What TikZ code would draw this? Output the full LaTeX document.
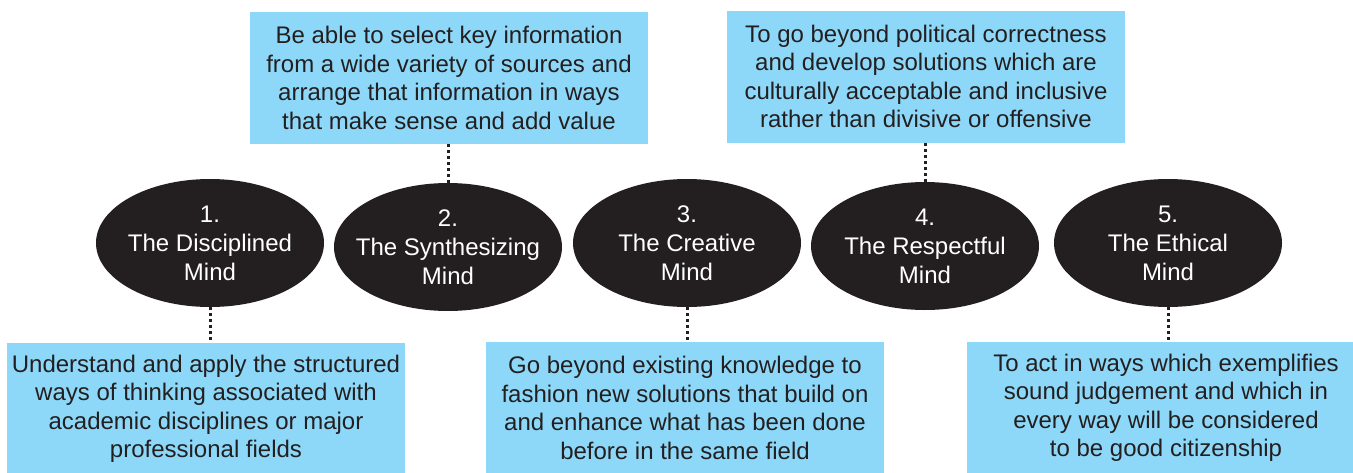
\documentclass[tikz,border=0pt]{standalone}
\usepackage{fontspec}
\setmainfont{Liberation Sans}
\usetikzlibrary{shapes.geometric}
\definecolor{mindblack}{HTML}{231F20}
\definecolor{mindblue}{HTML}{8DD8F8}

\begin{document}
\begin{tikzpicture}[
		x=1pt, y=-1pt,
		mind/.style={ellipse, fill=mindblack, minimum width=228pt, minimum height=128pt, inner sep=0pt},
		mindtext/.style={text=white, align=center, font=\fontsize{24}{29}\selectfont},
		infobox/.style={rectangle, fill=mindblue, text=mindblack, minimum width=398pt, minimum height=132pt, inner sep=0pt, align=center, font=\fontsize{24}{28.5}\selectfont},
		link/.style={mindblack, line width=3pt, dash pattern=on 3pt off 3pt}
	]
	\useasboundingbox (0,0) rectangle (1353,472);
	\clip (0,0) rectangle (1353,472);

	% the five minds
	\node[mind, label={[mindtext]center:{1.\\The Disciplined\\Mind}}] (e1) at (210,243) {};
	\node[mind, label={[mindtext]center:{2.\\The Synthesizing\\Mind}}] (e2) at (448,247) {};
	\node[mind, label={[mindtext]center:{3.\\The Creative\\Mind}}] (e3) at (687,243) {};
	\node[mind, label={[mindtext]center:{4.\\The Respectful\\Mind}}] (e4) at (925,246) {};
	\node[mind, label={[mindtext]center:{5.\\The Ethical\\Mind}}] (e5) at (1168,243) {};

	% descriptions
	\node[infobox] (b1) at (206,409) {Understand and apply the structured\\ways of thinking associated with\\academic disciplines or major\\professional fields};
	\node[infobox] (b2) at (449,78) {Be able to select key information\\from a wide variety of sources and\\arrange that information in ways\\that make sense and add value};
	\node[infobox] (b3) at (685,408) {Go beyond existing knowledge to\\fashion new solutions that build on\\and enhance what has been done\\before in the same field};
	\node[infobox] (b4) at (926,76.5) {To go beyond political correctness\\and develop solutions which are\\culturally acceptable and inclusive\\rather than divisive or offensive};
	\node[infobox] (b5) at (1166,408) {To act in ways which exemplifies\\sound judgement and which in\\every way will be considered\\to be good citizenship};

	\draw[link] (e1.south) -- (b1.north -| e1.south);
	\draw[link] (e2.north) -- (b2.south -| e2.north);
	\draw[link] (e3.south) -- (b3.north -| e3.south);
	\draw[link] (e4.north) -- (b4.south -| e4.north);
	\draw[link] (e5.south) -- (b5.north -| e5.south);
\end{tikzpicture}
\end{document}
